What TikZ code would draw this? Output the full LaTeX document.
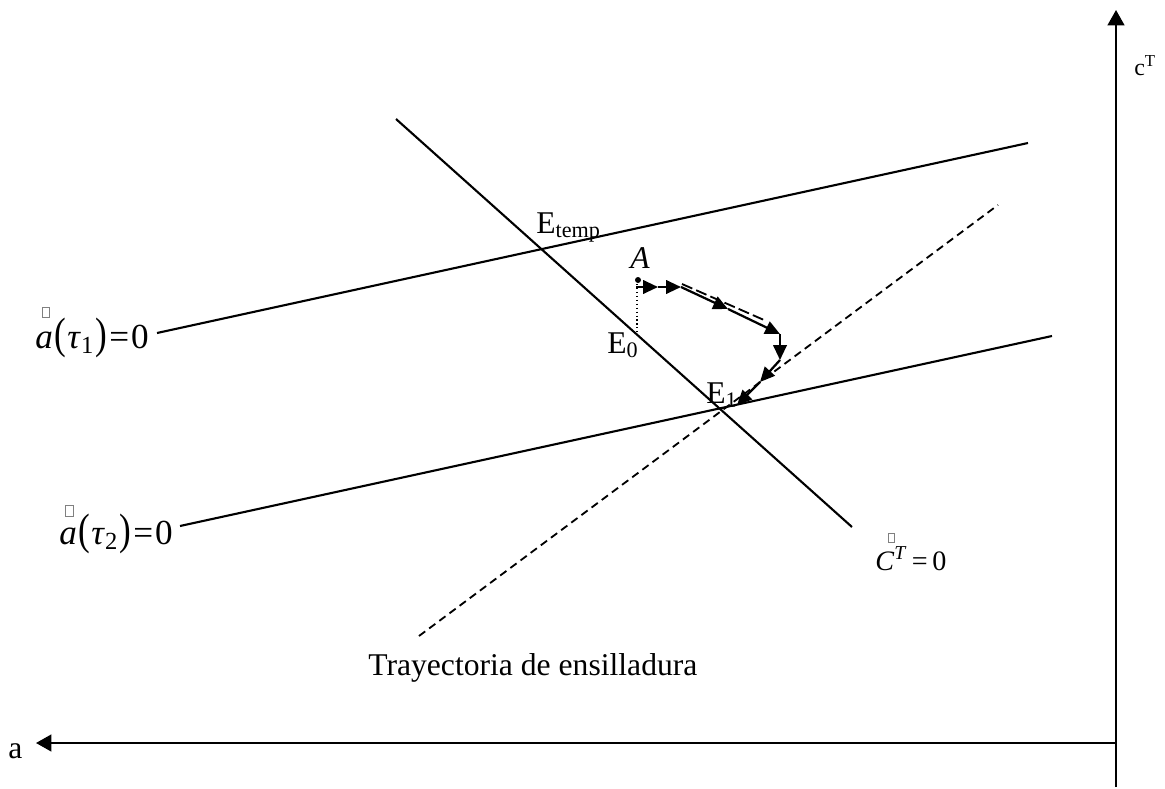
\documentclass[tikz,border=0pt]{standalone}
\usepackage{fontspec}
\setmainfont{Liberation Serif}
\usepackage{graphicx}
\usetikzlibrary{arrows.meta}
\begin{document}
\begin{tikzpicture}[x=0.025cm,y=-0.025cm,
  ln/.style={line width=1.5pt},
  dsh/.style={line width=1.3pt, dash pattern=on 5.5pt off 3.5pt},
  axisarrow/.style={line width=1.5pt, -{Triangle[length=11pt,width=12pt]}},
  traj/.style={line width=1.6pt, -{Triangle[length=10.5pt,width=9.5pt]}},
  lbl/.style={inner sep=0pt, anchor=base west, font=\fontsize{22.5}{27}\selectfont},
  mlbl/.style={inner sep=0pt, anchor=base west, font=\fontsize{25}{30}\selectfont},
  tofu/.style={draw=gray, line width=0.4pt}]
\useasboundingbox (0,0) rectangle (1165,789);
% axes
\coordinate (ybot) at (1116,787);
\coordinate (ytop) at (1116,10);
\coordinate (o) at (1116,743);
\coordinate (xend) at (36,743);
\draw[axisarrow] (ybot) -- (ytop);
\draw[axisarrow] (o) -- (xend);
\node[lbl] (xlab) at (8,758) {a};
\node[lbl, font=\fontsize{17}{20}\selectfont] (ylab) at (1134,75) {c\textsuperscript{T}};
% lines
\coordinate (l1a) at (157,333); \coordinate (l1b) at (1028,143);
\coordinate (l2a) at (180,526); \coordinate (l2b) at (1052,336);
\coordinate (ca) at (396,119);  \coordinate (cb) at (852,527);
\coordinate (sa) at (419,636);  \coordinate (sb) at (998,205);
\draw[ln] (l1a) -- (l1b);
\draw[ln] (l2a) -- (l2b);
\draw[ln] (ca) -- (cb);
\draw[dsh] (sa) -- (sb);
% labels of lines
\node[mlbl] (lab1) at (35,348) {\textit{a}\kern1pt\scalebox{1}[1.25]{(}\kern1pt\textit{τ}\textsubscript{1}\kern1pt\scalebox{1}[1.25]{)}\kern1.5pt=\kern1.5pt0};
\node[mlbl] (lab2) at (59,544) {\textit{a}\kern1pt\scalebox{1}[1.25]{(}\kern1pt\textit{τ}\textsubscript{2}\kern1pt\scalebox{1}[1.25]{)}\kern1.5pt=\kern1.5pt0};
\node[lbl, font=\fontsize{20}{24}\selectfont] (labc) at (875,570) {\textit{C}\textsuperscript{\textit{T}}\,=\,0};
\draw[tofu] (42,307) rectangle (49,317);
\draw[tofu] (65,505) rectangle (73,516);
\draw[tofu] (888,533) rectangle (894,542);
\node[lbl] (tray) at (368,675) {Trayectoria de ensilladura};
% points
\node[lbl] (etemp) at (536,233) {E\textsubscript{temp}};
\node[lbl] (alab) at (630,268) {\textit{A}};
\node[lbl] (e0) at (607,353) {E\textsubscript{0}};
\node[lbl] (e1) at (706,403) {E\textsubscript{1}};
\coordinate (dot) at (638,280);
\coordinate (e0top) at (637,335);
\fill (dot) circle (3);
\draw[line width=0.8pt, dotted] (637,284) -- (e0top);
% trajectory
\coordinate (p0) at (636,287);
\coordinate (p1) at (658,287);
\coordinate (p2) at (681,287);
\coordinate (p3) at (728,309);
\coordinate (p4) at (780,334);
\coordinate (p5) at (780,360);
\coordinate (p6) at (760,382);
\coordinate (p7) at (737,405);
\draw[line width=1.3pt, dash pattern=on 8pt off 3pt] (682,284) -- (764,320);
\draw[traj] (p0) -- (p1);
\draw[traj] (p1) -- (p2);
\draw[traj] (p2) -- (p3);
\draw[traj] (p3) -- (p4);
\draw[traj] (p4) -- (p5);
\draw[traj] (p5) -- (p6);
\draw[traj] (p6) -- (p7);
\end{tikzpicture}
\end{document}
